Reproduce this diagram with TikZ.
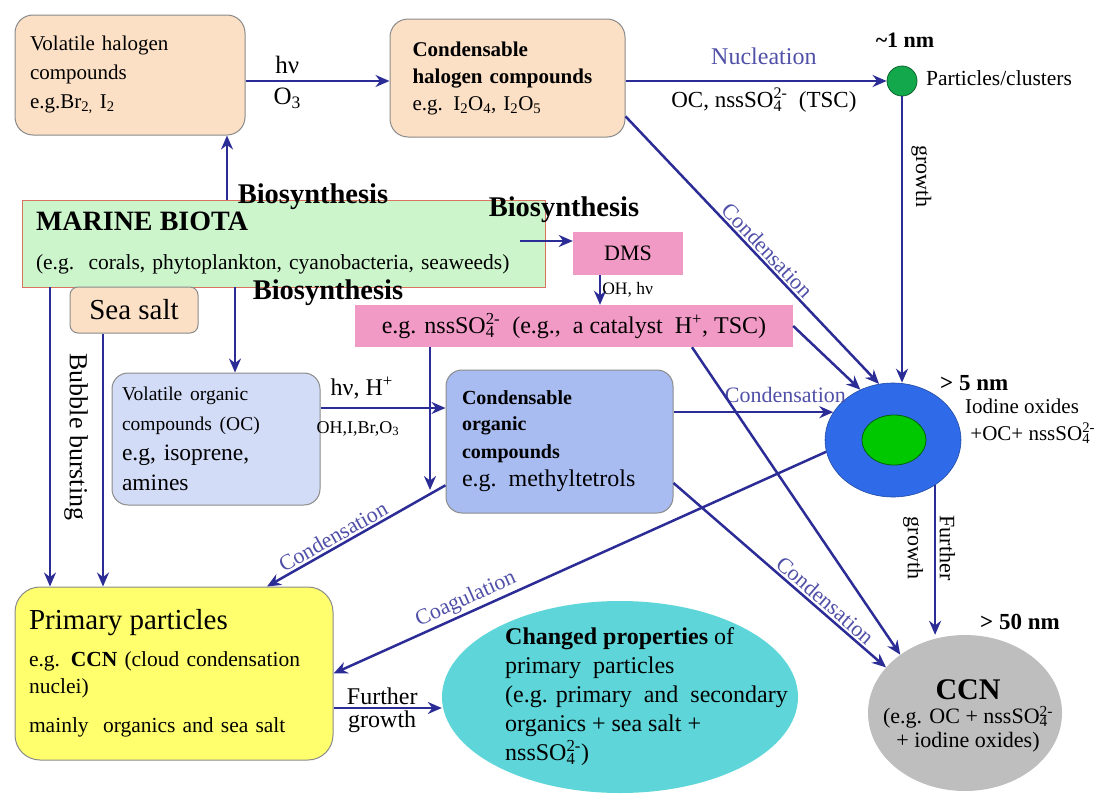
\documentclass[tikz,border=0pt]{standalone}
\usepackage{fontspec}
\setmainfont{Liberation Serif}
\usetikzlibrary{arrows.meta, positioning, shapes.geometric}

\definecolor{peach}{HTML}{FCE0C6}
\definecolor{boxline}{HTML}{8A8A8A}
\definecolor{biota}{HTML}{CCF5CC}
\definecolor{biotaline}{HTML}{D9735E}
\definecolor{pinkbox}{HTML}{F29AC6}
\definecolor{vocblue}{HTML}{D2DCF6}
\definecolor{corgblue}{HTML}{A8BCF2}
\definecolor{primyel}{HTML}{FFFF6E}
\definecolor{chgcyan}{HTML}{5ED5D8}
\definecolor{ccngray}{HTML}{BEBEBE}
\definecolor{blobblue}{HTML}{2F6AE8}
\definecolor{coregreen}{HTML}{00C800}
\definecolor{clustgreen}{HTML}{14A84C}
\definecolor{arrowblue}{HTML}{2C2C96}
\definecolor{labelblue}{HTML}{5050A8}

\newcommand{\fs}[2]{\fontsize{#1}{#2}\selectfont}
\newcommand{\sulf}{SO\rlap{\textsubscript{4}}\textsuperscript{2-}}

\begin{document}
\begin{tikzpicture}[x=1pt, y=-1pt,
  box/.style={draw=boxline, line width=1pt, rounded corners=18pt, align=left, inner sep=0pt},
  flat/.style={fill=pinkbox, inner sep=0pt},
  arr/.style={-{Stealth[length=14pt,width=12pt]}, draw=arrowblue, line width=2.5pt},
  rarr/.style={{Stealth[length=14pt,width=12pt]}-, draw=arrowblue, line width=2.5pt},
  proc/.style={text=labelblue, font=\fs{22}{24}, inner sep=2pt},
  note/.style={inner sep=2pt, font=\fs{22}{24}},
  hdr/.style={inner sep=0pt, font=\bfseries\fs{28.5}{30}}
]
\useasboundingbox (0,0) rectangle (1115,795);

% Halogen branch
\node[box, fill=peach, minimum width=230pt, minimum height=120pt, text width=200pt, font=\fs{21}{29}] (halo) at (130,75) {Volatile halogen\\compounds\\e.g.Br\textsubscript{2,} I\textsubscript{2}};
\node[box, fill=peach, minimum width=235pt, minimum height=118pt, text width=190pt, font=\fs{21}{27}] (chalo) at (507.5,78) {\textbf{Condensable}\\\textbf{halogen compounds}\\e.g. I\textsubscript{2}O\textsubscript{4}, I\textsubscript{2}O\textsubscript{5}};
\node[circle, fill=clustgreen, draw=clustgreen!60!black, line width=0.8pt, minimum size=30pt, inner sep=0pt] (p1) at (902,81) {};

% Sources
\node[draw=biotaline, line width=0.8pt, fill=biota, minimum width=523pt, minimum height=87pt, text width=495pt, align=left, inner sep=0pt, font=\fs{21.5}{24}] (biota) at (283.5,243.5) {{\bfseries\fs{28}{30}MARINE BIOTA}\\[15pt](e.g.\ \ corals, phytoplankton, cyanobacteria, seaweeds)};
\node[box, fill=peach, rounded corners=8pt, minimum width=128pt, minimum height=46pt, font=\fs{29}{30}, align=center] (salt) at (134,310) {Sea salt};
\node[flat, minimum width=110pt, minimum height=43pt, font=\fs{22}{24}] (dms) at (628,253.5) {DMS};
\node[flat, minimum width=438pt, minimum height=42pt, font=\fs{24}{26}] (sulf) at (574,326) {e.g. nss\sulf{}\ \ (e.g.,\ \ a catalyst\ \ H\textsuperscript{+}, TSC)};

% Organic branch
\node[box, fill=vocblue, rounded corners=16pt, minimum width=208pt, minimum height=132pt, text width=188pt, font=\fs{23.5}{30}] (voc) at (216,439) {{\fs{19.5}{31}Volatile organic\\compounds (OC)}\\e.g, isoprene,\\amines};
\node[box, fill=corgblue, rounded corners=16pt, minimum width=227pt, minimum height=143pt, text width=195pt, font=\fs{24}{28}] (corg) at (559.5,441.5) {{\bfseries\fs{20}{26}Condensable\\organic\\compounds}\\e.g. methyltetrols};

% Particles
\node[box, fill=primyel, rounded corners=25pt, minimum width=318pt, minimum height=173pt, text width=290pt, font=\fs{21.5}{27}] (prim) at (174,673.5) {{\fs{29}{30}Primary particles}\\[10pt]e.g. \textbf{CCN} (cloud condensation\\nuclei)\\[12pt]mainly\ \ organics and sea salt};
\node[ellipse, fill=chgcyan, minimum width=356pt, minimum height=192pt] (chg) at (620,697) {};
\node[anchor=west, align=left, font=\fs{24}{29}, inner sep=0pt] (chgtxt) at (505,697) {\textbf{Changed properties} of\\primary\ \ particles\\(e.g. primary\ \ and\ \ secondary\\organics + sea salt +\\nss\sulf)};
\node[ellipse, fill=blobblue, draw=blobblue!70!black, line width=0.6pt, minimum width=136pt, minimum height=114pt, inner sep=0pt] (blob) at (893,440) {};
\node[ellipse, fill=coregreen, draw=coregreen!50!black, line width=0.8pt, minimum width=64pt, minimum height=50pt, inner sep=0pt] (core) at (894,440) {};
\node[ellipse, fill=ccngray, minimum width=194pt, minimum height=156pt, inner sep=0pt] (ccn) at (965,713) {};
\node[align=center, inner sep=0pt, font=\fs{22}{24}] (ccntxt) at (968,716) {{\bfseries\fs{30}{32}CCN}\\[0pt](e.g. OC + nss\sulf\\+ iodine oxides)};

% Size notes
\node[note, font=\bfseries\fs{22}{24}] (p1size) at (905,40) {\textasciitilde1 nm};
\node[note, anchor=west, font=\fs{21.5}{24}] (p1name) at (924,78) {Particles/clusters};
\node[note, anchor=west, font=\bfseries\fs{23}{25}] (blobsize) at (938,383) {> 5 nm};
\node[note, anchor=west, align=left, font=\fs{21}{27}] (blobname) at (963,421) {Iodine oxides\\\ +OC+ nss\sulf};
\node[note, anchor=west, font=\bfseries\fs{23}{25}] (ccnsize) at (978,622) {> 50 nm};

% Connectors
\coordinate (dmsin) at (520,241);
\coordinate (sulfdrop) at (430,490);
\draw[arr] (halo.east |- p1) -- (chalo.west |- p1)
  node[pos=0.29, above, note, font=\fs{25}{26}, inner sep=6pt] (hv1) {hν}
  node[pos=0.29, below, note, font=\fs{25}{26}, inner sep=6pt] (o3) {O\textsubscript{3}};
\draw[arr] (chalo.east |- p1) -- (p1)
  node[pos=0.53, above, proc, font=\fs{24}{26}, inner sep=15pt] (nucl) {Nucleation}
  node[pos=0.53, below, note, font=\fs{23}{25}, inner sep=6pt] (nuclcat) {OC, nss\sulf{}\ \ (TSC)};
\draw[arr] (p1) -- (p1 |- blob.north)
  node[pos=0.28, rotate=-90, anchor=south, inner sep=8pt, font=\fs{22}{24}] (grw) {growth};
\draw[arr] (biota.north -| 227,0) -- (halo.south -| 227,0);
\draw[arr] (dmsin) -- (dms.west |- dmsin);
\draw[arr] (dms.south -| 600,0) -- (sulf.north -| 600,0)
  node[midway, right, inner sep=1pt, font=\fs{17.5}{18}] (ohhv) {OH, hν};
\draw[arr] (biota.south -| 235,0) -- (voc.north -| 235,0);
\draw[arr] (biota.south -| 50,0) -- (prim.north -| 50,0);
\draw[arr] (salt.south -| 103,0) -- (prim.north -| 103,0);
\draw[arr] (voc.east |- 0,408) -- (corg.west |- 0,408)
  node[pos=0.33, above, note, font=\fs{24}{26}, inner sep=8pt] (hvh) {hν, H\textsuperscript{+}}
  node[pos=0.3, below, note, font=\fs{18}{20}, inner sep=12pt] (oxid) {OH,I,Br,O\textsubscript{3}};
\draw[arr] (sulf.south -| sulfdrop) -- (sulfdrop);
\draw[arr] (corg.east |- blob.155) -- (blob.155)
  node[pos=0.7, above, proc, inner sep=8pt] (cond1) {Condensation};
\draw[arr] (chalo.-18) -- (blob.104)
  node[pos=0.53, sloped, above, proc] (cond2) {Condensation};
\draw[arr] (sulf.east) -- (blob.123);
\draw[arr] ([xshift=118pt]sulf.south) -- (ccn.138);
\draw[arr] (corg.-20) -- (ccn.150)
  node[pos=0.68, sloped, above, proc] (cond3) {Condensation};
\draw[rarr] (prim.east) -- (blob.190)
  node[pos=0.28, sloped, above, proc] (coag) {Coagulation};
\draw[rarr] (prim.north -| 267,0) -- (corg.201)
  node[pos=0.4, sloped, above, proc] (cond4) {Condensation};
\draw[arr] (blob.-47) -- (blob.-47 |- ccn.north)
  node[pos=0.42, xshift=-6pt, rotate=-90, align=center, font=\fs{22}{32}] (fgrw) {Further\\growth};
\draw[arr] (prim.east |- 0,708) -- (chg.west |- 0,708)
  node[pos=0.45, above, note, font=\fs{24}{26}] (fur) {Further}
  node[pos=0.45, below, note, font=\fs{24}{26}] (grw2) {growth};

% Process labels
\node[hdr] (bio1) at (313,197) {Biosynthesis};
\node[hdr] (bio2) at (564,210) {Biosynthesis};
\node[hdr] (bio3) at (328,293) {Biosynthesis};
\node[rotate=-90, font=\fs{26}{28}] (bubble) at (76,437) {Bubble bursting};

\end{tikzpicture}
\end{document}
